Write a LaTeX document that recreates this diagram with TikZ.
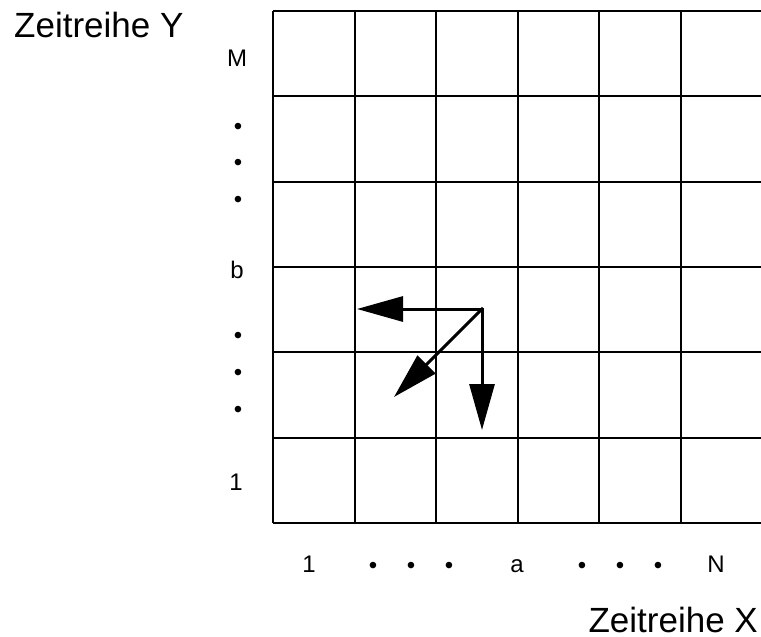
\documentclass[tikz,border=0pt]{standalone}
\usepackage{fontspec}
\setmainfont{Liberation Sans}
\usetikzlibrary{arrows.meta, positioning}
\tikzstyle{gridline} = [line width=2pt, black]
\tikzstyle{arrow} = [line width=3pt, line cap=rect, -{Triangle[length=46pt,width=25pt]}]
\tikzstyle{title} = [font=\fontsize{35}{42}\selectfont, inner sep=0pt]
\tikzstyle{ticklabel} = [font=\fontsize{24}{28}\selectfont, inner sep=0pt, anchor=base]

\begin{document}
\begin{tikzpicture}[x=1pt, y=-1pt]
\useasboundingbox (0,0) rectangle (761,637);

% Grid
\foreach \i in {0,...,5} {
  \draw [gridline] ({273+81.6*\i},11) -- ({273+81.6*\i},523);
}
\foreach \j in {0,...,6} {
  \draw [gridline] (273,{11+85.33*\j}) -- (761,{11+85.33*\j});
}

% Axis titles
\node (ytitle) [title, anchor=base west] at (14,37) {Zeitreihe Y};
\node (xtitle) [title, anchor=base east] at (758,632) {Zeitreihe X};

% Y labels
\node (yM) [ticklabel] at (237,66) {M};
\node (yd1) [ticklabel] at (238,134) {•};
\node (yd2) [ticklabel] at (238,170) {•};
\node (yd3) [ticklabel] at (238,207) {•};
\node (yb) [ticklabel] at (237,278) {b};
\node (yd4) [ticklabel] at (238,343) {•};
\node (yd5) [ticklabel] at (238,380) {•};
\node (yd6) [ticklabel] at (238,417) {•};
\node (y1) [ticklabel] at (236,490) {1};

% X labels
\node (x1) [ticklabel] at (309,572) {1};
\node (xd1) [ticklabel] at (373,573) {•};
\node (xd2) [ticklabel] at (411,573) {•};
\node (xd3) [ticklabel] at (449,573) {•};
\node (xa) [ticklabel] at (517,572) {a};
\node (xd4) [ticklabel] at (582,573) {•};
\node (xd5) [ticklabel] at (620,573) {•};
\node (xd6) [ticklabel] at (658,573) {•};
\node (xN) [ticklabel] at (716,572) {N};

% Step arrows
\coordinate (cell) at (482,309);
\coordinate (stepleft) at (357,309);
\coordinate (stepdiag) at (394,397);
\coordinate (stepdown) at (482,430);
\draw [arrow] (cell) -- (stepleft);
\draw [arrow] (cell) -- (stepdiag);
\draw [arrow] (cell) -- (stepdown);

\end{tikzpicture}
\end{document}
